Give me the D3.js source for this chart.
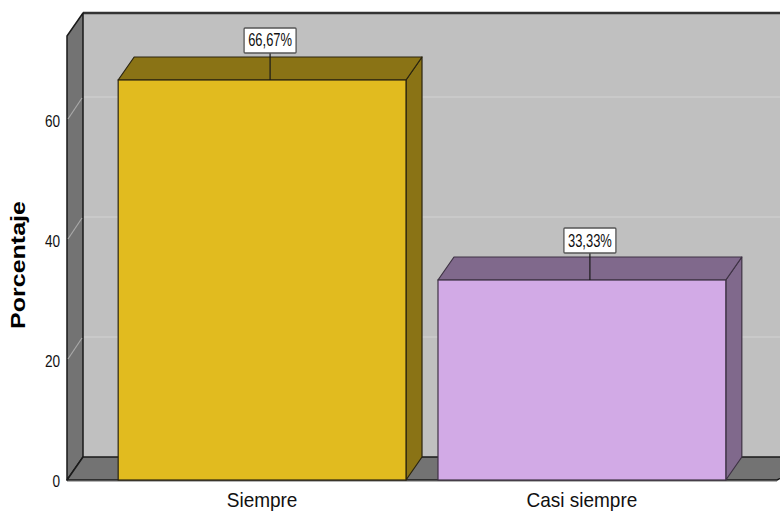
<!DOCTYPE html>
<html>
<head>
<meta charset="utf-8">
<script src="https://cdn.jsdelivr.net/npm/d3@7"></script>
<style>
  html, body { margin: 0; padding: 0; background: #fff; }
  svg { display: block; font-family: "Liberation Sans", Arial, sans-serif; }
</style>
</head>
<body>
<div id="chart"></div>
<script>
// ---- data ----
const categories = ["Siempre", "Casi siempre"];
const values = [66.67, 33.33];
const valueLabels = ["66,67%", "33,33%"];
const yTicks = [0, 20, 40, 60];
const yTitle = "Porcentaje";

// ---- styles ----
const frontColors = ["#E1BB1F", "#D2AAE6"];
const sideColors = ["#8A7315", "#80698C"];
const edgeColors = ["#2a2410", "#3e3244"];

const W = 780, H = 513;
const DX = 16, DY = -23;

const svg = d3.select("#chart").append("svg").attr("width", W).attr("height", H);

const x = d3.scaleBand().domain(categories).range([67, 777]).paddingInner(0.1).paddingOuter(0.16);
const y = d3.scaleLinear().domain([0, 74]).range([480, 36]);

const x0 = x.range()[0], x1 = x.range()[1];
const yb = y(0), yt = y(74);

// back wall
svg.append("rect").attr("x", x0 + DX).attr("y", yt + DY).attr("width", x1 - x0 + 40).attr("height", yb - yt)
  .attr("fill", "#C0C0C0");
// gridlines on back wall
svg.selectAll("line.gridb").data(yTicks.filter(d => d > 0)).join("line")
  .attr("x1", x0 + DX).attr("x2", W).attr("y1", d => y(d) + DY).attr("y2", d => y(d) + DY)
  .attr("stroke", "#D2D2D2").attr("stroke-width", 1.2);
// top border of back wall
svg.append("line").attr("x1", x0 + DX).attr("x2", W).attr("y1", yt + DY).attr("y2", yt + DY)
  .attr("stroke", "#333").attr("stroke-width", 2.5);

// left wall
svg.append("polygon")
  .attr("points", [[x0, yt], [x0 + DX, yt + DY], [x0 + DX, yb + DY], [x0, yb]].map(p => p.join(",")).join(" "))
  .attr("fill", "#737373").attr("stroke", "#1a1a1a").attr("stroke-width", 1.5).attr("stroke-linejoin", "round");
// gridlines on left wall
svg.selectAll("line.gridl").data(yTicks.filter(d => d > 0)).join("line")
  .attr("x1", x0 + 1).attr("x2", x0 + DX - 1).attr("y1", d => y(d) - 1).attr("y2", d => y(d) + DY + 1)
  .attr("stroke", "#A8A8A8").attr("stroke-width", 1.2);

// floor
svg.append("polygon")
  .attr("points", [[x0, yb], [x0 + DX, yb + DY], [x1 + DX + 30, yb + DY], [x1, yb]].map(p => p.join(",")).join(" "))
  .attr("fill", "#737373").attr("stroke", "#1a1a1a").attr("stroke-width", 1.5).attr("stroke-linejoin", "round");
svg.append("line").attr("x1", x0).attr("x2", x1).attr("y1", yb + 1.5).attr("y2", yb + 1.5)
  .attr("stroke", "#B4B4B4").attr("stroke-width", 1.2);

// bars
const bars = svg.selectAll("g.bar").data(categories.map((c, i) => ({ c, v: values[i], i }))).join("g");
bars.each(function (d) {
  const g = d3.select(this);
  const bx0 = x(d.c), bx1 = x(d.c) + x.bandwidth();
  const ty = y(d.v), by = y(0);
  g.append("polygon")
    .attr("points", [[bx1, ty], [bx1 + DX, ty + DY], [bx1 + DX, by + DY], [bx1, by]].map(p => p.join(",")).join(" "))
    .attr("fill", sideColors[d.i]).attr("stroke", edgeColors[d.i]).attr("stroke-width", 1.2).attr("stroke-linejoin", "round");
  g.append("polygon")
    .attr("points", [[bx0, ty], [bx0 + DX, ty + DY], [bx1 + DX, ty + DY], [bx1, ty]].map(p => p.join(",")).join(" "))
    .attr("fill", sideColors[d.i]).attr("stroke", edgeColors[d.i]).attr("stroke-width", 1.2).attr("stroke-linejoin", "round");
  g.append("rect").attr("x", bx0).attr("y", ty).attr("width", bx1 - bx0).attr("height", by - ty)
    .attr("fill", frontColors[d.i]).attr("stroke", edgeColors[d.i]).attr("stroke-width", 1.2);

  // value label
  const cx = (bx0 + bx1) / 2 + 8;
  const bw = 52, bh = 25;
  const boxBottom = ty + DY - 4;
  g.append("line").attr("x1", cx).attr("x2", cx).attr("y1", boxBottom).attr("y2", ty)
    .attr("stroke", "#1a1a1a").attr("stroke-width", 1.2);
  g.append("rect").attr("x", cx - bw / 2).attr("y", boxBottom - bh).attr("width", bw).attr("height", bh)
    .attr("fill", "#fff").attr("stroke", "#555").attr("stroke-width", 1.3).attr("rx", 1);
  g.append("text")
    .attr("transform", `translate(${cx},${boxBottom - 6.5}) scale(0.72,1)`)
    .attr("text-anchor", "middle").attr("font-size", 18).attr("fill", "#111")
    .text(valueLabels[d.i]);
});

// y tick labels
svg.selectAll("text.ytick").data(yTicks).join("text")
  .attr("class", "ytick")
  .attr("transform", d => `translate(60,${y(d) + 6.5}) scale(0.8,1)`)
  .attr("text-anchor", "end").attr("font-size", 17).attr("fill", "#111")
  .text(d => d);

// x labels
svg.selectAll("text.xlab").data(categories).join("text")
  .attr("class", "xlab")
  .attr("transform", d => `translate(${x(d) + x.bandwidth() / 2},507) scale(0.95,1.03)`)
  .attr("text-anchor", "middle").attr("font-size", 20).attr("fill", "#111")
  .text(d => d);

// y title
svg.append("text")
  .attr("transform", "translate(25,265) rotate(-90) scale(1,0.82)")
  .attr("text-anchor", "middle").attr("font-size", 25).attr("font-weight", "bold").attr("fill", "#000")
  .text(yTitle);
</script>
</body>
</html>
